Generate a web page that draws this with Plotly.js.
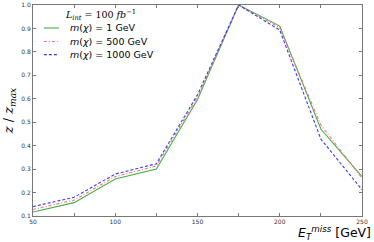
<!DOCTYPE html>
<html><head><meta charset="utf-8">
<script src="https://cdn.plot.ly/plotly-3.0.1.min.js"></script>
<style>html,body{margin:0;padding:0;background:#fff}#c{width:374px;height:242px}</style>
</head><body><div id="c"></div>
<script>
const met = [50, 75, 100, 125, 150, 175, 200, 225, 250];
const z1 = [0.117, 0.157, 0.258, 0.300, 0.597, 1.0, 0.910, 0.471, 0.268];
const z500 = [0.128, 0.168, 0.268, 0.313, 0.607, 1.0, 0.903, 0.488, 0.262];
const z1000 = [0.140, 0.180, 0.279, 0.323, 0.617, 1.0, 0.893, 0.428, 0.212];
const names = ['<i>m</i>(<i>χ</i>) = 1 GeV', '<i>m</i>(<i>χ</i>) = 500 GeV', '<i>m</i>(<i>χ</i>) = 1000 GeV'];
const legendTitle = '<i>L</i><sub><i>int</i></sub> = 100 <i>fb</i><sup>−1</sup>';
const yTicks = [0.1,0.2,0.3,0.4,0.5,0.6,0.7,0.8,0.9,1.0];
const xTicks = [50,100,150,200,250];

const styles = [
  {color: 'rgb(70,175,70)', width: 1.1, dash: 'solid'},
  {color: 'rgb(255,110,130)', width: 1.1, dash: '3px,2px,1px,2px'},
  {color: 'rgb(60,60,230)', width: 1.1, dash: '3px,2px'}
];
const series = [z1, z500, z1000];
const traces = series.map((s, i) => ({x: met, y: s, name: names[i], mode: 'lines', line: styles[i], showlegend: false}));

// manual legend (compact rows like the reference)
const legRows = [0.891, 0.827, 0.765];
const shapes = legRows.map((y, i) => ({type: 'line', xref: 'paper', yref: 'paper', x0: 0.033, x1: 0.079, y0: y, y1: y, line: styles[i]}));
const annotations = legRows.map((y, i) => ({xref: 'paper', yref: 'paper', x: 0.106, y: y, xanchor: 'left', yanchor: 'middle',
  showarrow: false, text: names[i], font: {family: 'DejaVu Sans', size: 9.5, color: '#000'}}));
annotations.push({xref: 'paper', yref: 'paper', x: 0.091, y: 0.952, xanchor: 'left', yanchor: 'middle', showarrow: false,
  text: legendTitle, font: {family: 'DejaVu Serif', size: 9.5, color: '#000'}});
annotations.push({xref: 'paper', yref: 'paper', x: 1.03, y: -0.128, xanchor: 'right', yanchor: 'bottom', showarrow: false, borderpad: 0,
  text: '<i>E</i><sub><i>T</i></sub><sup><i>miss</i></sup> [GeV]', font: {family: 'DejaVu Sans', size: 12.5, color: '#000'}});

const axisCommon = {showgrid: false, zeroline: false, showline: true, linecolor: '#777', linewidth: 1,
  mirror: 'ticks', ticks: 'inside', ticklen: 3, tickcolor: '#777',
  tickfont: {family: 'DejaVu Sans', size: 6, color: '#333'}};
const layout = {
  width: 374, height: 242,
  margin: {l: 33, r: 12, t: 5, b: 26},
  paper_bgcolor: '#fff', plot_bgcolor: '#fff',
  showlegend: false,
  xaxis: Object.assign({}, axisCommon, {range: [50, 250], tickvals: xTicks, ticktext: xTicks.map(String),
    minor: {dtick: 25, ticks: 'inside', ticklen: 3, tickcolor: '#777'}}),
  yaxis: Object.assign({}, axisCommon, {range: [0.1, 1.0], tickvals: yTicks, ticktext: yTicks.map(v => v.toFixed(1)),
    title: {text: '<i>z</i> / <i>z</i><sub><i>max</i></sub>', font: {family: 'DejaVu Serif', size: 13, color: '#000'}, standoff: 4}}),
  shapes: shapes,
  annotations: annotations
};
Plotly.newPlot('c', traces, layout, {staticPlot: true, displayModeBar: false});
</script></body></html>
